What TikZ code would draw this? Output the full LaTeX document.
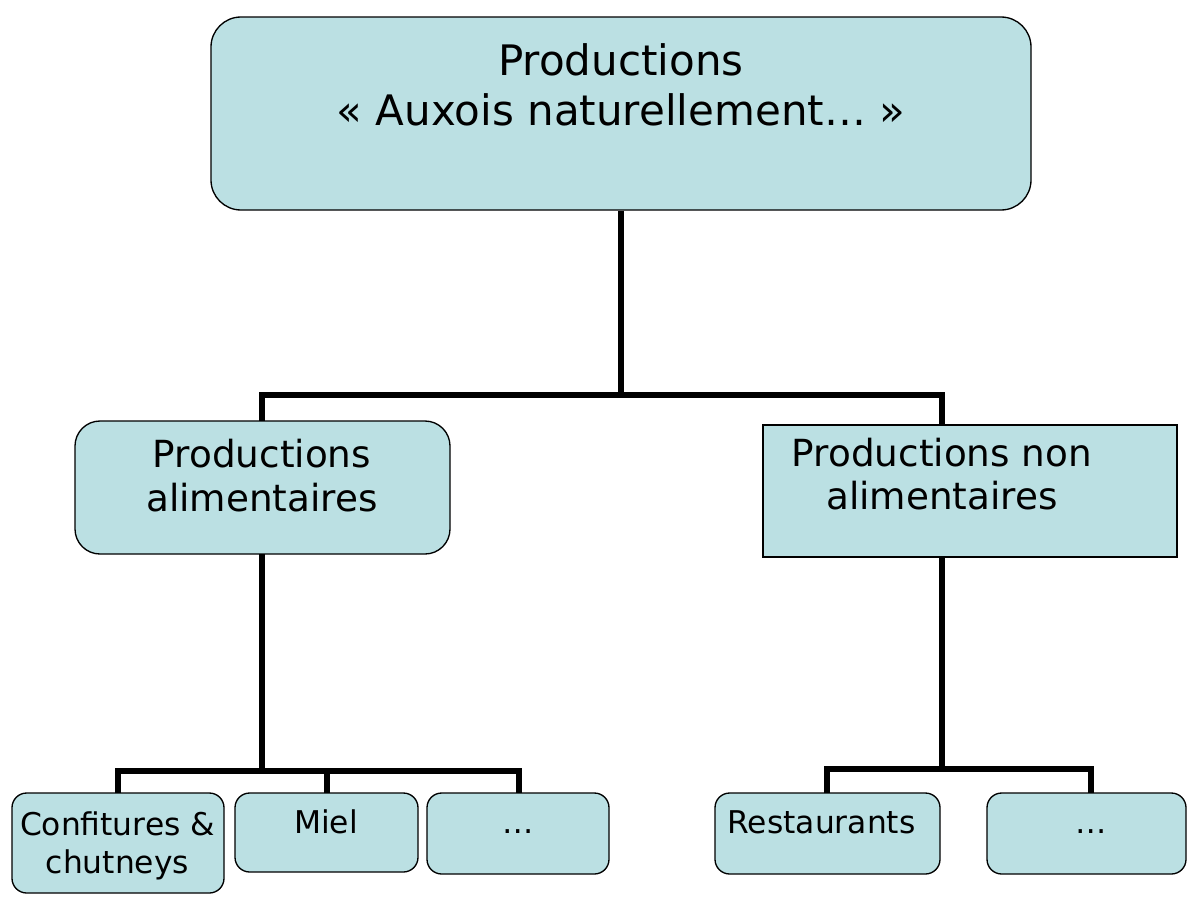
\documentclass[tikz,border=0pt]{standalone}
\usepackage{fontspec}
\setmainfont{DejaVu Sans}
\definecolor{boxfill}{RGB}{187,224,227}
\begin{document}
\begin{tikzpicture}[x=0.75pt,y=-0.75pt,
  box/.style={draw=black,line width=1pt,fill=boxfill,inner sep=0pt},
  conn/.style={draw=black,line width=3.8pt},
  txt/.style={inner sep=0pt,anchor=base},
  big/.style={font=\fontsize{31.5pt}{37pt}\selectfont},
  mid/.style={font=\fontsize{28pt}{33pt}\selectfont},
  small/.style={font=\fontsize{23.5pt}{28pt}\selectfont}]
\useasboundingbox (0,0) rectangle (1187,896);
% connector coordinates
\coordinate (j0) at (621,395);
\coordinate (jl) at (262,395);
\coordinate (jr) at (942,395);
\coordinate (lmT) at (262,421);
\coordinate (rmT) at (942,425);
\coordinate (lmB) at (262,554);
\coordinate (jl2) at (262,771);
\coordinate (b1) at (118,771);
\coordinate (b2) at (327,771);
\coordinate (b3) at (519,771);
\coordinate (b1T) at (118,793);
\coordinate (b2T) at (327,793);
\coordinate (b3T) at (519,793);
\coordinate (rmB) at (942,557);
\coordinate (jr2) at (942,769);
\coordinate (c1) at (827,769);
\coordinate (c2) at (1091,769);
\coordinate (c1T) at (827,793);
\coordinate (c2T) at (1091,793);
% boxes
\node[box,rounded corners=22.5pt,minimum width=615pt,minimum height=144.75pt] (top) at (621,113.5) {};
\node[box,rounded corners=18.75pt,minimum width=281.25pt,minimum height=99.75pt] (lm) at (262.5,487.5) {};
\node[box,minimum width=310.5pt,minimum height=99pt] (rm) at (970,491) {};
\node[box,rounded corners=11pt,minimum width=159pt,minimum height=75pt] (conf) at (118,843) {};
\node[box,rounded corners=11pt,minimum width=137.25pt,minimum height=59.25pt] (miel) at (326.5,832.5) {};
\node[box,rounded corners=11pt,minimum width=136.5pt,minimum height=60.75pt] (dotsA) at (518,833.5) {};
\node[box,rounded corners=11pt,minimum width=168.75pt,minimum height=60.75pt] (rest) at (827.5,833.5) {};
\node[box,rounded corners=11pt,minimum width=149.25pt,minimum height=60.75pt] (dotsB) at (1086.5,833.5) {};
% connectors
\draw[conn] (top.south) -- (j0);
\draw[conn] (lmT) -- (jl) -- (jr) -- (rmT);
\draw[conn] (lmB) -- (jl2);
\draw[conn] (b1T) -- (b1) -- (b3) -- (b3T);
\draw[conn] (b2) -- (b2T);
\draw[conn] (rmB) -- (jr2);
\draw[conn] (c1T) -- (c1) -- (c2) -- (c2T);
% texts
\node[txt,big] (t1) at (621,75) {Productions};
\node[txt,big] (t2) at (621,125) {« Auxois naturellement… »};
\node[txt,mid] (l1) at (262,467) {Productions};
\node[txt,mid] (l2) at (262,511) {alimentaires};
\node[txt,mid] (r1) at (942,466) {Productions non};
\node[txt,mid] (r2) at (942,509) {alimentaires};
\node[txt,small] (cf1) at (117.5,835) {Confitures \&};
\node[txt,small] (cf2) at (117.5,873) {chutneys};
\node[txt,small] (mi) at (326,833) {Miel};
\node[txt,small] (da) at (518,833) {…};
\node[txt,small] (re) at (821.5,833) {Restaurants};
\node[txt,small] (db) at (1091,833) {…};
\end{tikzpicture}
\end{document}
